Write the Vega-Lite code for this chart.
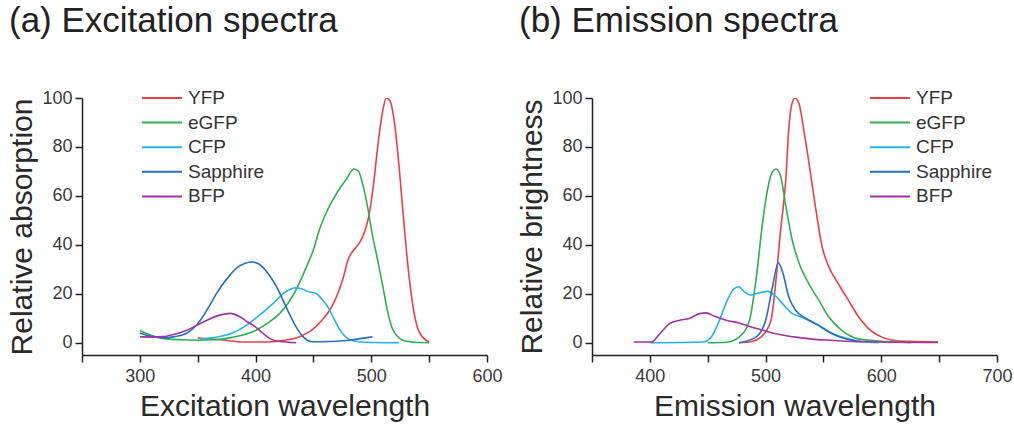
{
  "$schema": "https://vega.github.io/schema/vega-lite/v6.json",
  "background": "white",
  "padding": {"left": 7, "top": 4, "right": 2, "bottom": 2},
  "config": {
    "font": "Liberation Sans",
    "view": {"stroke": null},
    "axis": {
      "grid": false,
      "domainColor": "#222",
      "domainWidth": 1.5,
      "tickColor": "#222",
      "tickWidth": 1.5,
      "tickSize": 7,
      "labelFont": "Liberation Sans",
      "labelFontSize": 18,
      "labelColor": "#3a3a3a",
      "titleFont": "Liberation Sans",
      "titleFontSize": 30,
      "titleFontWeight": "normal",
      "titleColor": "#2a2a2a"
    },
    "legend": {
      "orient": "none",
      "title": null,
      "symbolType": "M-2,0H2",
      "symbolSize": 400,
      "symbolStrokeWidth": 2,
      "labelFont": "Liberation Sans",
      "labelFontSize": 19,
      "labelColor": "#333",
      "labelOffset": 15,
      "rowPadding": 3.6
    },
    "title": {
      "font": "Liberation Sans",
      "fontSize": 35,
      "fontWeight": "normal",
      "color": "#222",
      "anchor": "start",
      "frame": "group"
    }
  },
  "datasets": {
    "excitation": [
      {"protein": "YFP", "wl": 350, "v": 2}, {"protein": "YFP", "wl": 370, "v": 1.2}, {"protein": "YFP", "wl": 390, "v": 0.3}, {"protein": "YFP", "wl": 410, "v": 0.3}, {"protein": "YFP", "wl": 425, "v": 1}, {"protein": "YFP", "wl": 438, "v": 2.5}, {"protein": "YFP", "wl": 448, "v": 5}, {"protein": "YFP", "wl": 457, "v": 9}, {"protein": "YFP", "wl": 465, "v": 14}, {"protein": "YFP", "wl": 471, "v": 20}, {"protein": "YFP", "wl": 476, "v": 27}, {"protein": "YFP", "wl": 480, "v": 34}, {"protein": "YFP", "wl": 485, "v": 38}, {"protein": "YFP", "wl": 490, "v": 41}, {"protein": "YFP", "wl": 494, "v": 45}, {"protein": "YFP", "wl": 498, "v": 52}, {"protein": "YFP", "wl": 502, "v": 65}, {"protein": "YFP", "wl": 506, "v": 82}, {"protein": "YFP", "wl": 510, "v": 95}, {"protein": "YFP", "wl": 513, "v": 100}, {"protein": "YFP", "wl": 516, "v": 99}, {"protein": "YFP", "wl": 520, "v": 90}, {"protein": "YFP", "wl": 524, "v": 72}, {"protein": "YFP", "wl": 528, "v": 50}, {"protein": "YFP", "wl": 532, "v": 30}, {"protein": "YFP", "wl": 536, "v": 15}, {"protein": "YFP", "wl": 540, "v": 6}, {"protein": "YFP", "wl": 545, "v": 2}, {"protein": "YFP", "wl": 550, "v": 0.3},
      {"protein": "eGFP", "wl": 300, "v": 5}, {"protein": "eGFP", "wl": 310, "v": 3}, {"protein": "eGFP", "wl": 320, "v": 1.8}, {"protein": "eGFP", "wl": 335, "v": 1.2}, {"protein": "eGFP", "wl": 350, "v": 1}, {"protein": "eGFP", "wl": 365, "v": 1.2}, {"protein": "eGFP", "wl": 380, "v": 2.2}, {"protein": "eGFP", "wl": 400, "v": 5}, {"protein": "eGFP", "wl": 412, "v": 8.5}, {"protein": "eGFP", "wl": 421, "v": 12}, {"protein": "eGFP", "wl": 432, "v": 19}, {"protein": "eGFP", "wl": 444, "v": 31}, {"protein": "eGFP", "wl": 450, "v": 38}, {"protein": "eGFP", "wl": 455, "v": 46}, {"protein": "eGFP", "wl": 460, "v": 52}, {"protein": "eGFP", "wl": 464, "v": 56}, {"protein": "eGFP", "wl": 470, "v": 61}, {"protein": "eGFP", "wl": 478, "v": 66.5}, {"protein": "eGFP", "wl": 485, "v": 71}, {"protein": "eGFP", "wl": 489, "v": 70}, {"protein": "eGFP", "wl": 493, "v": 64}, {"protein": "eGFP", "wl": 497, "v": 55}, {"protein": "eGFP", "wl": 501, "v": 44}, {"protein": "eGFP", "wl": 505, "v": 35}, {"protein": "eGFP", "wl": 510, "v": 23}, {"protein": "eGFP", "wl": 514, "v": 13}, {"protein": "eGFP", "wl": 518, "v": 6}, {"protein": "eGFP", "wl": 522, "v": 3}, {"protein": "eGFP", "wl": 527, "v": 1}, {"protein": "eGFP", "wl": 535, "v": 0.3}, {"protein": "eGFP", "wl": 550, "v": 0},
      {"protein": "CFP", "wl": 352, "v": 1.5}, {"protein": "CFP", "wl": 365, "v": 2.2}, {"protein": "CFP", "wl": 380, "v": 4}, {"protein": "CFP", "wl": 390, "v": 6.5}, {"protein": "CFP", "wl": 400, "v": 10}, {"protein": "CFP", "wl": 415, "v": 16}, {"protein": "CFP", "wl": 425, "v": 20.5}, {"protein": "CFP", "wl": 435, "v": 22.5}, {"protein": "CFP", "wl": 440, "v": 22}, {"protein": "CFP", "wl": 446, "v": 20.8}, {"protein": "CFP", "wl": 452, "v": 20.2}, {"protein": "CFP", "wl": 457, "v": 18}, {"protein": "CFP", "wl": 462, "v": 15}, {"protein": "CFP", "wl": 467, "v": 10.5}, {"protein": "CFP", "wl": 472, "v": 6}, {"protein": "CFP", "wl": 478, "v": 2.3}, {"protein": "CFP", "wl": 485, "v": 0.7}, {"protein": "CFP", "wl": 495, "v": 0.2}, {"protein": "CFP", "wl": 524, "v": 0},
      {"protein": "Sapphire", "wl": 300, "v": 4}, {"protein": "Sapphire", "wl": 310, "v": 2.6}, {"protein": "Sapphire", "wl": 320, "v": 2}, {"protein": "Sapphire", "wl": 330, "v": 2.5}, {"protein": "Sapphire", "wl": 340, "v": 3.8}, {"protein": "Sapphire", "wl": 352, "v": 9}, {"protein": "Sapphire", "wl": 360, "v": 15}, {"protein": "Sapphire", "wl": 366, "v": 20}, {"protein": "Sapphire", "wl": 375, "v": 26}, {"protein": "Sapphire", "wl": 385, "v": 31}, {"protein": "Sapphire", "wl": 397, "v": 33}, {"protein": "Sapphire", "wl": 406, "v": 31}, {"protein": "Sapphire", "wl": 412, "v": 27.5}, {"protein": "Sapphire", "wl": 418, "v": 23}, {"protein": "Sapphire", "wl": 424, "v": 17}, {"protein": "Sapphire", "wl": 429, "v": 12}, {"protein": "Sapphire", "wl": 435, "v": 6.5}, {"protein": "Sapphire", "wl": 441, "v": 2.5}, {"protein": "Sapphire", "wl": 449, "v": 0.4}, {"protein": "Sapphire", "wl": 465, "v": 0.5}, {"protein": "Sapphire", "wl": 481, "v": 1}, {"protein": "Sapphire", "wl": 492, "v": 1.8}, {"protein": "Sapphire", "wl": 501, "v": 2.4},
      {"protein": "BFP", "wl": 300, "v": 2.5}, {"protein": "BFP", "wl": 310, "v": 2.3}, {"protein": "BFP", "wl": 320, "v": 2.5}, {"protein": "BFP", "wl": 330, "v": 3.5}, {"protein": "BFP", "wl": 340, "v": 5}, {"protein": "BFP", "wl": 357, "v": 9}, {"protein": "BFP", "wl": 369, "v": 11.3}, {"protein": "BFP", "wl": 378, "v": 12}, {"protein": "BFP", "wl": 386, "v": 10.7}, {"protein": "BFP", "wl": 393, "v": 8.5}, {"protein": "BFP", "wl": 400, "v": 6.4}, {"protein": "BFP", "wl": 406, "v": 4}, {"protein": "BFP", "wl": 412, "v": 1.8}, {"protein": "BFP", "wl": 420, "v": 0.6}, {"protein": "BFP", "wl": 435, "v": 0}
    ],
    "emission": [
      {"protein": "YFP", "wl": 477, "v": 0}, {"protein": "YFP", "wl": 488, "v": 0.5}, {"protein": "YFP", "wl": 496, "v": 2.3}, {"protein": "YFP", "wl": 504.6, "v": 9}, {"protein": "YFP", "wl": 509, "v": 25.6}, {"protein": "YFP", "wl": 513, "v": 46}, {"protein": "YFP", "wl": 517.5, "v": 66.7}, {"protein": "YFP", "wl": 520, "v": 87}, {"protein": "YFP", "wl": 523, "v": 98}, {"protein": "YFP", "wl": 525.5, "v": 100}, {"protein": "YFP", "wl": 529, "v": 97.5}, {"protein": "YFP", "wl": 533, "v": 87}, {"protein": "YFP", "wl": 537.5, "v": 73.5}, {"protein": "YFP", "wl": 543, "v": 55.8}, {"protein": "YFP", "wl": 549, "v": 39}, {"protein": "YFP", "wl": 554.7, "v": 31}, {"protein": "YFP", "wl": 563, "v": 24}, {"protein": "YFP", "wl": 572, "v": 17}, {"protein": "YFP", "wl": 580.5, "v": 10.5}, {"protein": "YFP", "wl": 589, "v": 5.8}, {"protein": "YFP", "wl": 600.6, "v": 2.3}, {"protein": "YFP", "wl": 615, "v": 0.7}, {"protein": "YFP", "wl": 649, "v": 0.3},
      {"protein": "eGFP", "wl": 450, "v": 0}, {"protein": "eGFP", "wl": 466, "v": 0.2}, {"protein": "eGFP", "wl": 477, "v": 2.3}, {"protein": "eGFP", "wl": 486, "v": 9}, {"protein": "eGFP", "wl": 491.7, "v": 25.6}, {"protein": "eGFP", "wl": 497.4, "v": 49}, {"protein": "eGFP", "wl": 501.7, "v": 62.6}, {"protein": "eGFP", "wl": 506, "v": 70}, {"protein": "eGFP", "wl": 509, "v": 71}, {"protein": "eGFP", "wl": 513, "v": 68}, {"protein": "eGFP", "wl": 517.5, "v": 55.8}, {"protein": "eGFP", "wl": 523, "v": 42}, {"protein": "eGFP", "wl": 529, "v": 32.5}, {"protein": "eGFP", "wl": 537.5, "v": 24}, {"protein": "eGFP", "wl": 546, "v": 17.4}, {"protein": "eGFP", "wl": 554.7, "v": 10.5}, {"protein": "eGFP", "wl": 566, "v": 5}, {"protein": "eGFP", "wl": 580.5, "v": 1.6}, {"protein": "eGFP", "wl": 598, "v": 0.7}, {"protein": "eGFP", "wl": 626, "v": 0},
      {"protein": "CFP", "wl": 400, "v": 0}, {"protein": "CFP", "wl": 446, "v": 0.3}, {"protein": "CFP", "wl": 453, "v": 2.3}, {"protein": "CFP", "wl": 460, "v": 9}, {"protein": "CFP", "wl": 467, "v": 17.4}, {"protein": "CFP", "wl": 473, "v": 22.2}, {"protein": "CFP", "wl": 477, "v": 22.9}, {"protein": "CFP", "wl": 481.7, "v": 20.8}, {"protein": "CFP", "wl": 487, "v": 19.5}, {"protein": "CFP", "wl": 494.6, "v": 20.4}, {"protein": "CFP", "wl": 501.7, "v": 21}, {"protein": "CFP", "wl": 509, "v": 19}, {"protein": "CFP", "wl": 514.6, "v": 16}, {"protein": "CFP", "wl": 523, "v": 12}, {"protein": "CFP", "wl": 532, "v": 10.3}, {"protein": "CFP", "wl": 543, "v": 7.8}, {"protein": "CFP", "wl": 554.7, "v": 4.4}, {"protein": "CFP", "wl": 566, "v": 2.3}, {"protein": "CFP", "wl": 580.5, "v": 0.7}, {"protein": "CFP", "wl": 598, "v": 0},
      {"protein": "Sapphire", "wl": 477, "v": 0}, {"protein": "Sapphire", "wl": 491.7, "v": 2.3}, {"protein": "Sapphire", "wl": 500, "v": 9}, {"protein": "Sapphire", "wl": 506, "v": 22.9}, {"protein": "Sapphire", "wl": 511, "v": 32.7}, {"protein": "Sapphire", "wl": 515, "v": 28.4}, {"protein": "Sapphire", "wl": 520, "v": 18.8}, {"protein": "Sapphire", "wl": 526, "v": 13.3}, {"protein": "Sapphire", "wl": 535, "v": 9.9}, {"protein": "Sapphire", "wl": 546, "v": 7.1}, {"protein": "Sapphire", "wl": 557.6, "v": 3.7}, {"protein": "Sapphire", "wl": 569, "v": 1.6}, {"protein": "Sapphire", "wl": 583, "v": 0.4},
      {"protein": "BFP", "wl": 386, "v": 0.3}, {"protein": "BFP", "wl": 401.4, "v": 0.3}, {"protein": "BFP", "wl": 408.6, "v": 3.7}, {"protein": "BFP", "wl": 417, "v": 7.8}, {"protein": "BFP", "wl": 426, "v": 9.2}, {"protein": "BFP", "wl": 434, "v": 9.9}, {"protein": "BFP", "wl": 443, "v": 11.9}, {"protein": "BFP", "wl": 448.7, "v": 12.2}, {"protein": "BFP", "wl": 456, "v": 10.8}, {"protein": "BFP", "wl": 466, "v": 9.2}, {"protein": "BFP", "wl": 477, "v": 8.1}, {"protein": "BFP", "wl": 489, "v": 6.2}, {"protein": "BFP", "wl": 500, "v": 4.8}, {"protein": "BFP", "wl": 512, "v": 3.4}, {"protein": "BFP", "wl": 526, "v": 2.3}, {"protein": "BFP", "wl": 540, "v": 1.5}, {"protein": "BFP", "wl": 557, "v": 1}, {"protein": "BFP", "wl": 583, "v": 0.4}, {"protein": "BFP", "wl": 649, "v": 0.1}
    ]
  },
  "hconcat": [
    {
      "width": 405,
      "height": 257,
      "title": {"text": "(a) Excitation spectra", "dx": -73, "offset": 20, "baseline": "alphabetic"},
      "data": {"name": "excitation"},
      "mark": {"type": "line", "interpolate": "monotone", "strokeWidth": 1.6, "clip": true},
      "encoding": {
        "x": {"field": "wl", "type": "quantitative", "scale": {"domain": [250, 600], "nice": false, "zero": false},
          "axis": {"title": "Excitation wavelength", "values": [250, 300, 350, 400, 450, 500, 550, 600], "labelExpr": "datum.value % 100 == 0 ? datum.label : ''", "labelPadding": 5, "titlePadding": 6, "labelFlush": false}},
        "y": {"field": "v", "type": "quantitative", "scale": {"domain": [-5, 100], "nice": false, "zero": false},
          "axis": {"title": "Relative absorption", "values": [0, 20, 40, 60, 80, 100], "labelPadding": 3, "titlePadding": 4}},
        "color": {"field": "protein", "type": "nominal",
          "scale": {"domain": ["YFP", "eGFP", "CFP", "Sapphire", "BFP"], "range": ["#ee3e4c", "#2fae52", "#22b2f0", "#2470c2", "#a033a4"]},
          "legend": {"legendX": 69, "legendY": -11}}
      }
    },
    {
      "width": 405,
      "height": 257,
      "title": {"text": "(b) Emission spectra", "dx": -73, "offset": 20, "baseline": "alphabetic"},
      "data": {"name": "emission"},
      "mark": {"type": "line", "interpolate": "monotone", "strokeWidth": 1.6, "clip": true},
      "encoding": {
        "x": {"field": "wl", "type": "quantitative", "scale": {"domain": [350, 700], "nice": false, "zero": false},
          "axis": {"title": "Emission wavelength", "values": [350, 400, 450, 500, 550, 600, 650, 700], "labelExpr": "datum.value % 100 == 0 ? datum.label : ''", "labelPadding": 5, "titlePadding": 6, "labelFlush": false}},
        "y": {"field": "v", "type": "quantitative", "scale": {"domain": [-5, 100], "nice": false, "zero": false},
          "axis": {"title": "Relative brightness", "values": [0, 20, 40, 60, 80, 100], "labelPadding": 3, "titlePadding": 4}},
        "color": {"field": "protein", "type": "nominal",
          "scale": {"domain": ["YFP", "eGFP", "CFP", "Sapphire", "BFP"], "range": ["#ee3e4c", "#2fae52", "#22b2f0", "#2470c2", "#a033a4"]},
          "legend": {"legendX": 287, "legendY": -11}}
      }
    }
  ],
  "resolve": {"scale": {"color": "independent", "x": "independent", "y": "independent"}, "legend": {"color": "independent"}},
  "bounds": "flush",
  "spacing": 105
}
